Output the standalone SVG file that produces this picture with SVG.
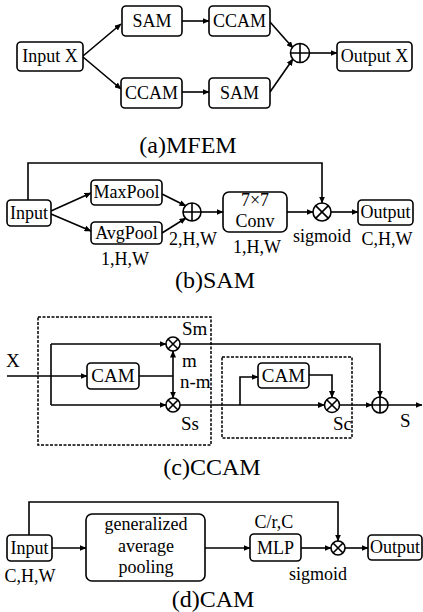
<svg xmlns="http://www.w3.org/2000/svg" width="423" height="612" viewBox="0 0 423 612">
<defs>
<marker id="ah" markerWidth="7" markerHeight="6" refX="6.5" refY="3" orient="auto" markerUnits="userSpaceOnUse">
<path d="M0,0 L7,3 L0,6 Z" fill="#000"/>
</marker>
<style>
.box{fill:#fff;stroke:#000;stroke-width:1.6}
.ln{fill:none;stroke:#000;stroke-width:1.6}
.ar{fill:none;stroke:#000;stroke-width:1.6;marker-end:url(#ah)}
.dash{fill:none;stroke:#000;stroke-width:1.5;stroke-dasharray:3,1.5}
.op{fill:#fff;stroke:#000;stroke-width:1.6}
text{font-family:"Liberation Serif","Times New Roman",serif;fill:#000;font-size:18px}
.c{text-anchor:middle}
.cap{font-size:24px;text-anchor:middle}
.c19{font-size:19px}
</style>
</defs>
<rect width="423" height="612" fill="#fff"/>

<!-- (a) MFEM -->
<g id="connectors-a">
<line class="ar" x1="83" y1="56" x2="121" y2="24"/>
<line class="ar" x1="83" y1="57" x2="121" y2="89"/>
<line class="ar" x1="182" y1="21" x2="209" y2="21"/>
<line class="ar" x1="182" y1="92" x2="209" y2="92"/>
<line class="ar" x1="270" y1="22" x2="293" y2="48"/>
<line class="ar" x1="270" y1="92" x2="293" y2="59"/>
<line class="ar" x1="309.5" y1="53" x2="337" y2="53"/>
</g>
<g id="a-input"><rect class="box" x="17" y="42" width="66" height="29" rx="4"/><text class="c" x="50" y="62">Input X</text></g>
<g id="a-sam1"><rect class="box" x="122" y="6" width="60" height="30" rx="4"/><text class="c" x="152" y="27">SAM</text></g>
<g id="a-ccam1"><rect class="box" x="209" y="6" width="61" height="30" rx="4"/><text class="c" x="239.5" y="27">CCAM</text></g>
<g id="a-ccam2"><rect class="box" x="121" y="78" width="61" height="30" rx="4"/><text class="c" x="151.5" y="99">CCAM</text></g>
<g id="a-sam2"><rect class="box" x="209" y="78" width="61" height="30" rx="4"/><text class="c" x="239.5" y="99">SAM</text></g>
<g id="a-plus"><circle class="op" cx="300" cy="53" r="9.5"/><path class="ln" d="M290.5,53 H309.5 M300,43.5 V62.5"/></g>
<g id="a-output"><rect class="box" x="337" y="42" width="75" height="29" rx="4"/><text class="c" x="374.5" y="62">Output X</text></g>
<text class="cap" x="188" y="153">(a)MFEM</text>

<!-- (b) SAM -->
<g id="connectors-b">
<path class="ar" d="M28,200 V163 H322 V203"/>
<line class="ar" x1="51" y1="211" x2="91" y2="193"/>
<line class="ar" x1="51" y1="214" x2="91" y2="231"/>
<line class="ar" x1="162" y1="194" x2="186" y2="206"/>
<line class="ar" x1="162" y1="233" x2="186" y2="218"/>
<line class="ar" x1="201" y1="212" x2="223" y2="212"/>
<line class="ar" x1="287" y1="212" x2="313" y2="212"/>
<line class="ar" x1="331" y1="212" x2="358" y2="212"/>
</g>
<g id="b-input"><rect class="box" x="7" y="200" width="44" height="26" rx="4"/><text class="c" x="29" y="219">Input</text></g>
<g id="b-maxpool"><rect class="box" x="91" y="180" width="71" height="25" rx="4"/><text class="c" x="126.5" y="198">MaxPool</text></g>
<g id="b-avgpool"><rect class="box" x="91" y="222" width="71" height="22" rx="4"/><text class="c" x="126.5" y="239">AvgPool</text></g>
<g id="b-plus"><circle class="op" cx="192" cy="212" r="9"/><path class="ln" d="M183,212 H201 M192,203 V221"/></g>
<g id="b-conv"><rect class="box" x="223" y="192" width="64" height="40" rx="6"/><text class="c" x="255" y="206">7×7</text><text class="c" x="255" y="227">Conv</text></g>
<g id="b-times"><circle class="op" cx="322" cy="212" r="9"/><path class="ln" d="M315.6,205.6 L328.4,218.4 M328.4,205.6 L315.6,218.4"/></g>
<g id="b-output"><rect class="box" x="358" y="200" width="55" height="25" rx="4"/><text class="c" x="385.5" y="218">Output</text></g>
<text class="c" x="193" y="245">2,H,W</text>
<text class="c" x="257" y="253">1,H,W</text>
<text class="c" x="125" y="265">1,H,W</text>
<text class="c" x="322" y="242">sigmoid</text>
<text class="c" x="387" y="245">C,H,W</text>
<text class="cap" x="215" y="288">(b)SAM</text>

<!-- (c) CCAM -->
<rect class="dash" x="38" y="317" width="173" height="128"/>
<rect class="dash" x="222" y="357" width="130" height="81"/>
<g id="connectors-c">
<line class="ar" x1="7" y1="376" x2="87" y2="376"/>
<path class="ln" d="M51,344 V405"/>
<line class="ar" x1="51" y1="344" x2="166" y2="344"/>
<line class="ar" x1="51" y1="405" x2="166" y2="405"/>
<line class="ln" x1="139" y1="376" x2="173" y2="376"/>
<line class="ar" x1="173" y1="376" x2="173" y2="351"/>
<line class="ar" x1="173" y1="376" x2="173" y2="398"/>
<path class="ar" d="M180,344 H380 V397"/>
<line class="ar" x1="180" y1="405" x2="324.5" y2="405"/>
<path class="ar" d="M240,405 V377 H258"/>
<path class="ar" d="M309,375 H332 V397.5"/>
<line class="ar" x1="339.5" y1="405" x2="372" y2="405"/>
<line class="ar" x1="388" y1="405" x2="422" y2="405"/>
</g>
<g id="c-cam1"><rect class="box" x="87" y="363" width="52" height="26" rx="4"/><text class="c c19" x="113" y="382">CAM</text></g>
<g id="c-sm"><circle class="op" cx="173" cy="344" r="7"/><path class="ln" d="M168,339 L178,349 M178,339 L168,349"/></g>
<g id="c-ss"><circle class="op" cx="173" cy="405" r="7"/><path class="ln" d="M168,400 L178,410 M178,400 L168,410"/></g>
<g id="c-cam2"><rect class="box" x="258" y="363" width="51" height="25" rx="4"/><text class="c c19" x="283.5" y="382">CAM</text></g>
<g id="c-sc"><circle class="op" cx="332" cy="405" r="7.5"/><path class="ln" d="M326.7,399.7 L337.3,410.3 M337.3,399.7 L326.7,410.3"/></g>
<g id="c-plus"><circle class="op" cx="380" cy="405" r="8"/><path class="ln" d="M372,405 H388 M380,397 V413"/></g>
<text class="c19" x="6" y="367">X</text>
<text class="c19" x="182" y="335">Sm</text>
<text class="c19" x="182" y="367">m</text>
<text class="c19" x="180" y="388">n-m</text>
<text class="c19" x="181" y="430">Ss</text>
<text class="c19" x="333" y="430">Sc</text>
<text class="c19" x="400" y="427">S</text>
<text class="cap" x="212" y="475">(c)CCAM</text>

<!-- (d) CAM -->
<g id="connectors-d">
<path class="ar" d="M29,535 V502 H338 V541"/>
<line class="ar" x1="52" y1="548" x2="86" y2="548"/>
<line class="ar" x1="205" y1="548" x2="250" y2="548"/>
<line class="ar" x1="301" y1="548" x2="331" y2="548"/>
<line class="ar" x1="345" y1="548" x2="368" y2="548"/>
</g>
<g id="d-input"><rect class="box" x="7" y="535" width="45" height="26" rx="4"/><text class="c" x="29.5" y="554">Input</text></g>
<g id="d-gap"><rect class="box" x="86" y="514" width="119" height="67" rx="6"/><text class="c" x="146" y="530">generalized</text><text class="c" x="146" y="552">average</text><text class="c" x="146" y="573">pooling</text></g>
<g id="d-mlp"><rect class="box" x="250" y="534" width="51" height="27" rx="4"/><text class="c" x="275.5" y="554">MLP</text></g>
<g id="d-times"><circle class="op" cx="338" cy="548" r="7"/><path class="ln" d="M333,543 L343,553 M343,543 L333,553"/></g>
<g id="d-output"><rect class="box" x="368" y="535" width="54" height="25" rx="4"/><text class="c" x="395" y="553">Output</text></g>
<text class="c" x="30" y="582">C,H,W</text>
<text class="c" x="274" y="528">C/r,C</text>
<text class="c" x="318" y="580">sigmoid</text>
<text class="cap" x="213" y="607">(d)CAM</text>
</svg>
